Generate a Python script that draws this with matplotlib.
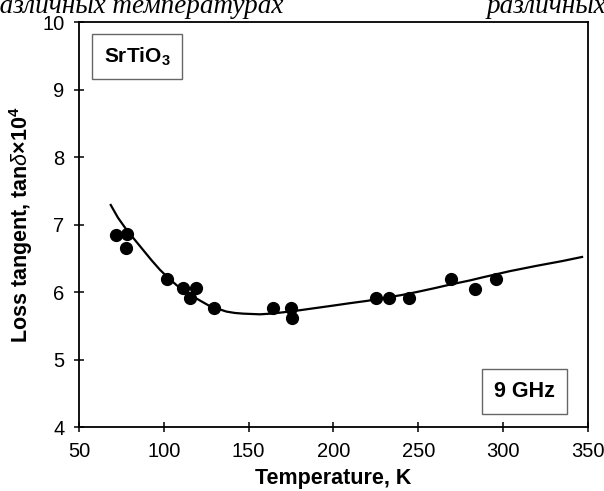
import matplotlib.pyplot as plt

plt.rcParams['font.family'] = ['Liberation Sans', 'DejaVu Sans']
plt.rcParams['mathtext.fontset'] = 'custom'
plt.rcParams['mathtext.rm'] = 'Liberation Sans:bold'
plt.rcParams['mathtext.it'] = 'Liberation Sans:italic'
plt.rcParams['mathtext.default'] = 'regular'

# measured loss tangent (x1e4) vs temperature
temp = [71.8, 78.1, 77.9, 101.7, 111.5, 118.9, 115.4, 129.6,
        164.5, 174.7, 175.3, 225.0, 232.9, 244.7, 269.2, 283.5, 295.7]
tand = [6.85, 6.86, 6.66, 6.20, 6.06, 6.06, 5.91, 5.76,
        5.76, 5.77, 5.61, 5.91, 5.91, 5.91, 6.20, 6.05, 6.20]

# fitted curve
fit_t = [68.7, 73, 78.1, 83, 87.9, 92.8, 97.7, 102.6, 107.6, 112.5, 117.4, 122.3,
         127.2, 132.1, 137.0, 141.9, 146.8, 151.7, 156.7, 163, 170.4, 180, 190,
         200, 209.7, 220, 229.3, 240, 249, 260, 268.6, 280, 288.3, 304, 320, 335, 346.5]
fit_v = [7.29, 7.10, 6.92, 6.77, 6.62, 6.47, 6.33, 6.21, 6.10, 6.01, 5.93, 5.86,
         5.79, 5.75, 5.71, 5.69, 5.68, 5.675, 5.67, 5.68, 5.70, 5.73, 5.765,
         5.80, 5.835, 5.87, 5.91, 5.955, 6.00, 6.06, 6.11, 6.17, 6.22, 6.31, 6.39, 6.46, 6.52]

fig = plt.figure(figsize=(6.04, 4.91), dpi=100)
ax = fig.add_axes([0.1308, 0.1303, 0.8427, 0.8247])

ax.plot(fit_t, fit_v, color='black', lw=1.6, zorder=2)
ax.plot(temp, tand, 'o', color='black', ms=8.5, zorder=3)

ax.set_xlim(50, 350)
ax.set_ylim(4, 10)
ax.set_xticks(range(50, 351, 50))
ax.set_yticks(range(4, 11))
ax.tick_params(direction='inout', length=7, width=1.1, labelsize=14.5, pad=7)
for s in ax.spines.values():
    s.set_linewidth(1.3)

ax.set_xlabel('Temperature, K', fontsize=15.5, fontweight='bold', labelpad=5)
ax.set_ylabel(r'Loss tangent, tan$\mathit{\delta}$$\times$10$^{4}$', fontsize=15.5,
              fontweight='bold', labelpad=5)

ax.text(0.114, 0.915, r'SrTiO$_3$', transform=ax.transAxes, fontsize=15,
        fontweight='bold', ha='center', va='center',
        bbox=dict(boxstyle='square,pad=0.55', fc='white', ec='#666666', lw=1))
ax.text(0.875, 0.088, '9 GHz', transform=ax.transAxes, fontsize=15.5,
        fontweight='bold', ha='center', va='center',
        bbox=dict(boxstyle='square,pad=0.55', fc='white', ec='#666666', lw=1))

# running header of the page, clipped at the edges
fig.text(-0.0215, 0.974, 'различных температурах', fontsize=19.5, style='italic',
         family=['Liberation Serif', 'DejaVu Serif'], ha='left', va='baseline')
fig.text(0.806, 0.974, 'различных', fontsize=19.5, style='italic',
         family=['Liberation Serif', 'DejaVu Serif'], ha='left', va='baseline')

fig.savefig('out.png', dpi=100)
